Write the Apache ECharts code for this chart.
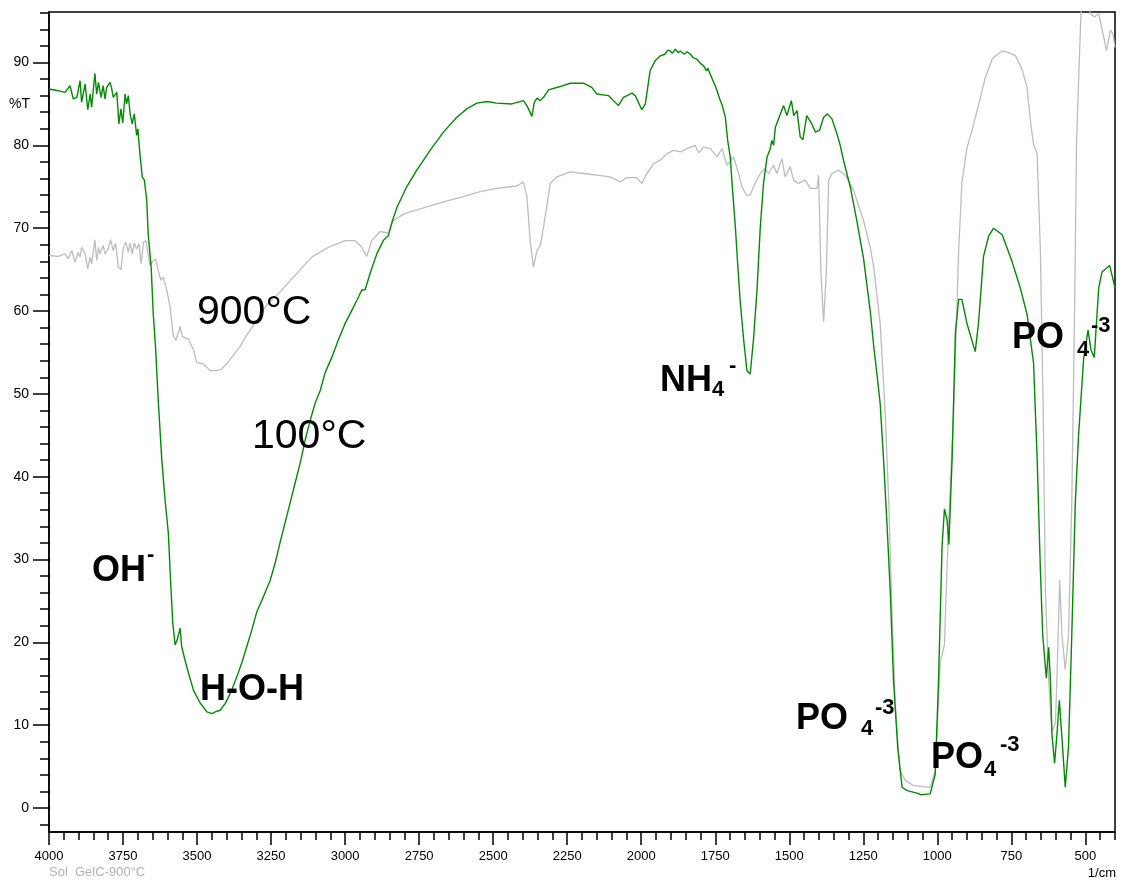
<!DOCTYPE html>
<html>
<head>
<meta charset="utf-8">
<script src="https://cdn.jsdelivr.net/npm/echarts@6.0.0/dist/echarts.min.js"></script>
<style>
html,body{margin:0;padding:0;background:#fff;}
#chart{width:1124px;height:882px;}
</style>
</head>
<body>
<div id="chart"></div>
<script>
// ---- data ----
var wn100 = [4000,3969,3946,3929,3918,3906,3895,3890,3878,3869,3861,3856,3845,3839,3833,3824,3817,3811,3805,3794,3789,3783,3771,3764,3757,3751,3743,3738,3732,3726,3719,3712,3704,3700,3693,3685,3678,3670,3665,3655,3648,3640,3631,3619,3608,3597,3589,3582,3574,3567,3557,3552,3541,3529,3512,3490,3467,3450,3439,3422,3405,3383,3366,3349,3332,3315,3298,3276,3253,3236,3220,3203,3186,3169,3152,3135,3118,3101,3084,3068,3045,3023,3000,2977,2960,2944,2932,2916,2893,2871,2854,2842,2825,2792,2758,2713,2668,2623,2589,2555,2521,2488,2437,2398,2386,2369,2361,2352,2341,2330,2313,2274,2240,2195,2167,2150,2110,2094,2077,2060,2031,2020,1998,1986,1970,1953,1936,1920,1910,1902,1895,1885,1875,1868,1855,1845,1834,1825,1812,1800,1789,1780,1775,1767,1760,1756,1750,1744,1735,1727,1716,1708,1699,1694,1682,1675,1666,1654,1643,1632,1621,1609,1598,1587,1575,1565,1559,1553,1547,1530,1519,1508,1493,1485,1474,1463,1454,1441,1424,1412,1398,1384,1371,1356,1339,1328,1317,1294,1272,1249,1238,1226,1215,1204,1193,1182,1170,1159,1148,1134,1119,1102,1069,1055,1024,1007,996,984,976,967,961,950,939,928,917,900,872,861,844,827,810,781,748,720,697,675,663,652,644,632,624,618,613,604,596,588,579,568,557,546,534,523,506,491,481,470,455,444,418,400];
var t100 = [86.8,86.6,86.4,87.2,85.6,85.8,87.8,85.2,87.4,84.3,86.2,84.6,88.7,86.2,87.6,85.8,87.2,85.6,87.0,87.6,87.0,85.8,86.4,82.6,84.4,82.7,86.2,85.0,86.0,83.8,82.6,83.8,81.2,82.0,79.0,76.2,75.8,73.4,69.3,65.3,59.7,55.5,49.2,42.0,37.2,33.2,27.1,22.3,19.7,20.3,21.7,19.5,17.9,16.3,14.2,12.7,11.6,11.4,11.6,11.8,12.6,14.2,15.8,17.5,19.5,21.5,23.7,25.5,27.5,29.6,32.0,34.4,36.8,39.2,41.6,44.4,46.8,48.9,50.4,52.5,54.4,56.5,58.5,60.1,61.3,62.5,62.6,64.5,66.9,68.5,69.1,70.7,72.5,75.0,77.0,79.4,81.6,83.4,84.4,85.1,85.3,85.1,85.0,85.4,84.8,83.5,85.2,85.7,85.4,85.8,86.7,87.1,87.5,87.5,87.0,86.2,86.0,85.4,84.8,85.8,86.3,86.0,84.3,85.0,89.0,90.2,90.8,91.0,91.5,91.4,91.1,91.6,91.2,91.4,91.0,91.3,91.0,90.6,90.4,89.9,89.6,89.0,89.3,88.6,88.0,88.2,87.2,86.6,85.6,84.9,83.4,80.6,78.5,75.8,70.1,66.1,61.3,56.5,52.8,52.4,56.5,62.5,70.1,75.4,78.6,79.5,80.6,80.0,82.2,83.8,84.8,83.6,85.4,83.6,84.2,81.0,80.7,83.6,82.6,81.6,81.8,83.4,83.8,83.2,81.4,80.0,78.2,75.0,70.9,66.3,63.2,59.8,55.8,52.4,48.8,42.3,34.3,26.2,15.4,7.4,2.5,2.1,1.8,1.6,1.7,4.1,15.4,31.6,36.1,34.8,31.8,42.3,57.4,61.4,61.4,58.5,55.1,58.5,66.6,69.0,70.0,69.2,66.0,62.8,59.6,53.7,42.3,28.8,20.8,15.7,19.4,15.4,8.9,5.4,8.9,13.0,8.4,2.5,7.4,20.8,36.9,45.0,54.2,57.7,55.3,54.4,62.8,64.7,65.5,62.8];

var wn900 = [4000,3969,3946,3935,3923,3912,3901,3895,3890,3878,3869,3861,3856,3845,3839,3833,3828,3817,3811,3800,3792,3783,3775,3766,3757,3749,3741,3732,3726,3719,3712,3704,3696,3689,3681,3673,3667,3659,3648,3639,3631,3622,3614,3602,3591,3580,3571,3557,3550,3529,3512,3501,3479,3467,3456,3433,3417,3400,3377,3355,3332,3298,3265,3225,3113,3056,3000,2966,2944,2927,2910,2882,2854,2837,2803,2769,2713,2656,2600,2544,2488,2443,2420,2398,2386,2375,2364,2352,2341,2330,2307,2285,2240,2195,2150,2105,2071,2048,2015,1998,1981,1958,1936,1913,1891,1868,1846,1818,1806,1789,1767,1744,1727,1710,1688,1671,1660,1645,1632,1621,1598,1581,1570,1553,1542,1525,1514,1497,1485,1469,1446,1429,1406,1401,1393,1384,1375,1367,1356,1333,1311,1283,1249,1226,1215,1193,1176,1164,1153,1142,1127,1108,1080,1024,1007,990,976,962,945,928,917,900,883,860,838,815,797,781,759,736,714,697,686,675,663,652,643,635,624,613,601,594,587,579,568,557,546,537,530,523,515,510,497,483,470,455,438,429,415,407,400];
var t900 = [66.7,66.6,66.9,66.3,67.3,65.9,67.1,66.5,67.7,66.9,65.1,66.5,65.7,68.6,66.1,67.7,66.9,67.9,66.9,67.5,68.6,67.3,68.2,65.3,65.0,67.7,68.3,67.1,68.2,66.9,68.2,67.5,68.1,65.7,68.3,68.5,67.3,65.5,66.1,66.2,64.9,63.7,64.1,62.5,60.5,56.9,56.5,58.1,56.9,56.6,55.3,53.8,53.6,53.2,52.8,52.8,53.0,53.6,54.7,55.7,57.1,58.9,60.7,62.1,66.5,67.7,68.5,68.5,67.7,66.6,68.5,69.6,69.4,70.9,71.7,72.1,72.7,73.3,73.8,74.4,74.8,75.0,75.1,75.6,73.8,68.5,65.3,67.3,67.9,70.1,75.4,76.2,76.8,76.6,76.4,76.2,75.6,76.1,76.1,75.4,76.6,77.8,78.2,79.0,79.4,79.2,79.6,80.0,79.1,79.8,79.6,78.6,79.6,77.6,78.6,76.6,75.0,74.0,74.0,75.0,76.6,77.2,76.6,77.6,76.6,78.4,76.2,77.4,75.8,75.4,75.8,74.8,74.8,76.4,64.5,58.7,64.5,75.8,76.6,77.0,76.4,74.6,70.9,67.6,65.3,58.5,47.7,36.9,23.5,12.7,4.6,3.3,2.7,2.5,4.6,17.6,19.7,34.3,47.7,67.3,75.5,79.7,81.8,85.0,88.2,90.4,91.0,91.4,91.2,90.8,89.2,87.0,83.0,80.1,79.0,67.3,49.2,26.2,15.4,9.2,10.3,18.1,27.5,20.8,16.7,20.8,36.9,58.5,80.0,87.8,95.9,97.5,98.0,95.9,95.5,95.9,93.1,91.4,93.9,93.5,91.8];

var xTickLabels = [4000,3750,3500,3250,3000,2750,2500,2250,2000,1750,1500,1250,1000,750,500];
var yTickLabels = [0,10,20,30,40,50,60,70,80,90];

// ---- build ----
function zip(a,b){var r=[];for(var i=0;i<a.length;i++)r.push([a[i],b[i]]);return r;}
var xMinor=[]; for(var v=400; v<=4000; v+=50) xMinor.push(v);
var yMinor=[]; for(var u=-2; u<=96; u+=2) yMinor.push(u);

var FONT='"Liberation Sans", Arial, Helvetica, sans-serif';
var X0=400, X1=4000, Y0=-2.9, Y1=96.1;

var chart = echarts.init(document.getElementById('chart'), null, {renderer:'canvas'});

function txt(x,y,text,size,bold,color,align){
  return {type:'text', x:x, y:y, silent:true, z:100,
    style:{text:text, fill:color||'#000', font:(bold?'bold ':'')+size+'px '+FONT,
      align:align||'left', verticalAlign:'middle'}};
}

var graphics = [
  txt(9,104,'%T',14,false),
  txt(49,872,'Sol  GelC-900°C',13,false,'#b4b4b4'),
  txt(1116,873,'1/cm',13,false,'#000','right'),
  txt(197,313,'900°C',41,false),
  txt(252,437,'100°C',41,false),
  txt(92,571,'OH',36,true), txt(147,555,'-',22,true),
  txt(200,690,'H-O-H',36,true),
  txt(660,381,'NH',36,true), txt(712,390,'4',22,true), txt(729,366,'-',22,true),
  txt(796,719,'PO',36,true), txt(861,729,'4',22,true), txt(875,708,'-3',22,true),
  txt(931,758,'PO',36,true), txt(984,770,'4',22,true), txt(1000,745,'-3',22,true),
  txt(1012,338,'PO',36,true), txt(1077,350,'4',22,true), txt(1091,326,'-3',22,true)
];

var axisLineStyle = {color:'#000', width:1.5};

var option = {
  animation:false,
  backgroundColor:'#fff',
  grid:{left:49, right:9, top:12, bottom:50, containLabel:false, outerBoundsMode:'none',
        show:true, borderColor:'#000', borderWidth:1.5, backgroundColor:'transparent'},
  xAxis:[
    {type:'value', inverse:true, min:X0, max:X1, position:'bottom',
     axisLine:{show:true, onZero:false, lineStyle:axisLineStyle},
     axisTick:{show:true, inside:false, length:13, customValues:xTickLabels, lineStyle:axisLineStyle},
     axisLabel:{show:true, customValues:xTickLabels, margin:18, color:'#000', fontSize:13, fontFamily:FONT,
       formatter:function(v){return String(v);}},
     splitLine:{show:false}},
    {type:'value', inverse:true, min:X0, max:X1, position:'bottom',
     axisLine:{show:false, onZero:false},
     axisTick:{show:true, inside:false, length:8, customValues:xMinor, lineStyle:axisLineStyle},
     axisLabel:{show:false}, splitLine:{show:false}}
  ],
  yAxis:[
    {type:'value', min:Y0, max:Y1, position:'left',
     axisLine:{show:true, onZero:false, lineStyle:axisLineStyle},
     axisTick:{show:true, inside:false, length:16, customValues:yTickLabels, lineStyle:axisLineStyle},
     axisLabel:{show:true, customValues:yTickLabels, margin:20, color:'#000', fontSize:14, fontFamily:FONT},
     splitLine:{show:false}},
    {type:'value', min:Y0, max:Y1, position:'left',
     axisLine:{show:false, onZero:false},
     axisTick:{show:true, inside:false, length:9, customValues:yMinor, lineStyle:axisLineStyle},
     axisLabel:{show:false}, splitLine:{show:false}}
  ],
  series:[
    {name:'900°C', type:'line', xAxisIndex:0, yAxisIndex:0, data:zip(wn900,t900),
     showSymbol:false, symbol:'none', clip:true, z:2,
     lineStyle:{color:'#bdbdbd', width:1.3}},
    {name:'100°C', type:'line', xAxisIndex:0, yAxisIndex:0, data:zip(wn100,t100),
     showSymbol:false, symbol:'none', clip:true, z:3,
     lineStyle:{color:'#008c00', width:1.4}}
  ],
  graphic:graphics
};
chart.setOption(option);
</script>
</body>
</html>
